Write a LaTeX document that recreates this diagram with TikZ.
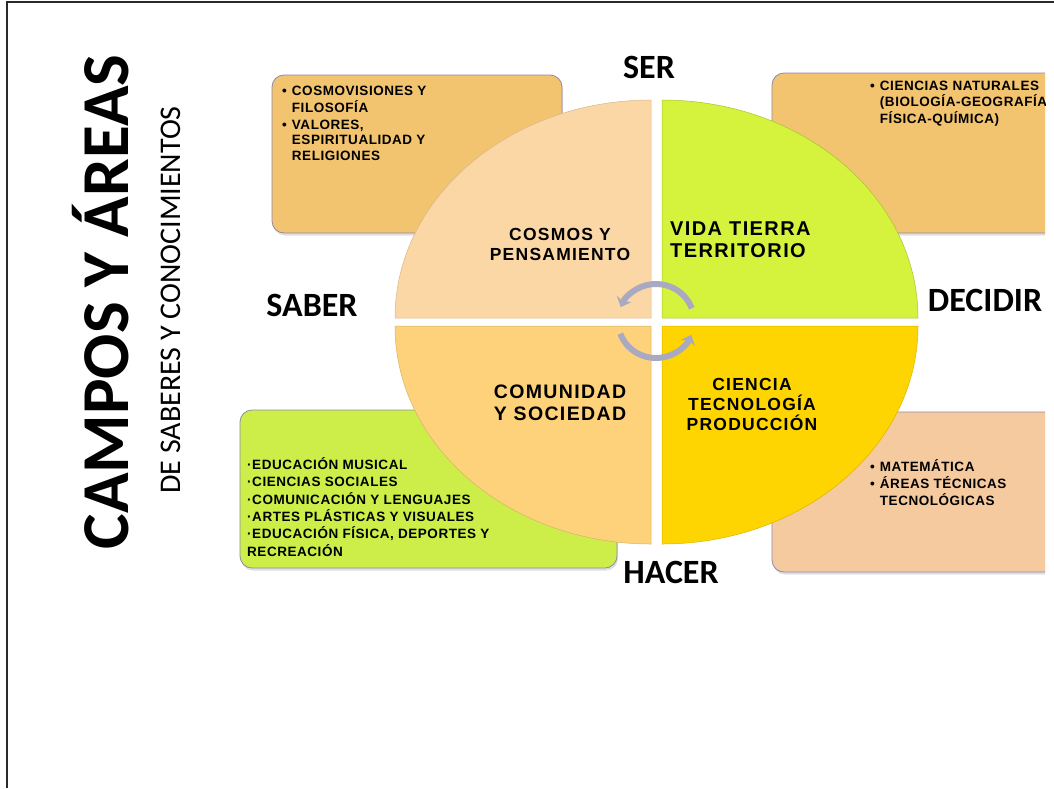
\documentclass[tikz,border=0pt]{standalone}
\usepackage{fontspec}
\setmainfont{Liberation Sans}
\newfontfamily\titlefont{Carlito}
\newfontfamily\areafont[LetterSpace=4]{Liberation Sans}
\newfontfamily\campofont[LetterSpace=7]{Liberation Sans}
\usetikzlibrary{arrows.meta}
\usetikzlibrary{shadows}

\definecolor{boxtan}{HTML}{F2C46F}
\definecolor{boxlime}{HTML}{CDEE48}
\definecolor{boxpeach}{HTML}{F6CA9F}
\definecolor{boxline}{HTML}{9088A8}
\definecolor{qpeach}{HTML}{FCD7A6}
\definecolor{qlime}{HTML}{D5F23C}
\definecolor{qyellow}{HTML}{FDD27A}
\definecolor{qgold}{HTML}{FED500}
\definecolor{cyclegray}{HTML}{A9A9C2}
\definecolor{framegray}{HTML}{2A2A2A}

\begin{document}
\begin{tikzpicture}[x=1pt, y=-1pt,
    areabox/.style={draw=boxline, line width=0.8pt, rounded corners=12pt,
        drop shadow={opacity=0.25, shadow xshift=1pt, shadow yshift=-2.5pt}},
    arealist/.style={anchor=base west, inner sep=0pt,
        font=\areafont\bfseries\fontsize{13.5}{#1}\selectfont},
    campo/.style 2 args={align=center, inner sep=0pt,
        font=\campofont\bfseries\fontsize{#1}{#2}\selectfont},
    eje/.style={inner sep=0pt, font=\titlefont\bfseries\fontsize{34}{40}\selectfont},
    ciclo/.style={line width=6pt, draw=cyclegray, -{Stealth[length=9pt, width=16pt]}}]

    \useasboundingbox (0,0) rectangle (1054,788);
    \draw[framegray, line width=2pt] (6.5,788) -- (6.5,2) -- (1054,2);

    \begin{scope}
        \clip (0,0) rectangle (1045,788);
        \draw[areabox, fill=boxtan]   (272,75)  rectangle (562,233);
        \draw[areabox, fill=boxtan]   (772,73)  rectangle (1080,233);
        \draw[areabox, fill=boxlime]  (240,410) rectangle (617,568);
        \draw[areabox, fill=boxpeach] (772,412) rectangle (1080,572);

        \draw (870,90.5) node (naturales) [arealist=15] {\begin{tabular}[t]{@{}l@{\hspace{5pt}}l@{}}
            • & CIENCIAS NATURALES\\
              & (BIOLOGÍA-GEOGRAFÍA\\
              & FÍSICA-QUÍMICA)
        \end{tabular}};
        \draw (870,471.5) node (matematica) [arealist=16] {\begin{tabular}[t]{@{}l@{\hspace{5pt}}l@{}}
            • & MATEMÁTICA\\
            • & ÁREAS TÉCNICAS\\
              & TECNOLÓGICAS
        \end{tabular}};
        \draw (985,300) node (decidir) [eje] {DECIDIR};
    \end{scope}

    \filldraw[draw=qpeach!85!black, line width=0.5pt, fill=qpeach]
        (651,318) -- (395,318) arc[start angle=180, end angle=90, x radius=256pt, y radius=218pt] -- cycle;
    \filldraw[draw=qlime!80!black, line width=0.5pt, fill=qlime]
        (662,318) -- (918,318) arc[start angle=0, end angle=90, x radius=256pt, y radius=218pt] -- cycle;
    \filldraw[draw=qyellow!85!black, line width=0.5pt, fill=qyellow]
        (651,326) -- (395,326) arc[start angle=180, end angle=270, x radius=256pt, y radius=218pt] -- cycle;
    \filldraw[draw=qgold!85!black, line width=0.5pt, fill=qgold]
        (662,326) -- (918,326) arc[start angle=0, end angle=-90, x radius=256pt, y radius=218pt] -- cycle;

    \coordinate (centro) at (656,321);
    \draw[ciclo] (centro) ++(20:38pt and 37pt) arc[start angle=20, end angle=158, x radius=38pt, y radius=37pt];
    \draw[ciclo] (centro) ++(200:38pt and 37pt) arc[start angle=200, end angle=338, x radius=38pt, y radius=37pt];

    \draw (560,244) node (cosmos) [campo={17.5}{20}] {COSMOS Y\\PENSAMIENTO};
    \draw (670,240) node (vida) [campo={20}{22}, align=left, anchor=west] {VIDA TIERRA\\TERRITORIO};
    \draw (560,403) node (comunidad) [campo={19.5}{22}] {COMUNIDAD\\Y SOCIEDAD};
    \draw (752,404) node (ciencia) [campo={17.5}{20}] {CIENCIA\\TECNOLOGÍA\\PRODUCCIÓN};

    \draw (282,95.5) node (cosmovision) [arealist=15.5] {\begin{tabular}[t]{@{}l@{\hspace{5pt}}l@{}}
        • & COSMOVISIONES Y\\
          & FILOSOFÍA\\[1.5pt]
        • & VALORES,\\
          & ESPIRITUALIDAD Y\\
          & RELIGIONES
    \end{tabular}};
    \draw (247,469.5) node (saberes) [arealist=17.3] {\begin{tabular}[t]{@{}l@{}}
        ·EDUCACIÓN MUSICAL\\
        ·CIENCIAS SOCIALES\\
        ·COMUNICACIÓN Y LENGUAJES\\
        ·ARTES PLÁSTICAS Y VISUALES\\
        ·EDUCACIÓN FÍSICA, DEPORTES Y\\
        RECREACIÓN
    \end{tabular}};

    \draw (649,67)  node (ser)   [eje] {SER};
    \draw (312,305) node (saber) [eje] {SABER};
    \draw (671,572) node (hacer) [eje] {HACER};

    \draw (128,302) node (campos) [rotate=90, anchor=base, inner sep=0pt,
        font=\titlefont\bfseries\fontsize{67}{70}\selectfont] {CAMPOS Y ÁREAS};
    \draw (180,300) node (subtitulo) [rotate=90, anchor=base, inner sep=0pt,
        font=\titlefont\fontsize{30}{34}\selectfont] {DE SABERES Y CONOCIMIENTOS};
\end{tikzpicture}
\end{document}
